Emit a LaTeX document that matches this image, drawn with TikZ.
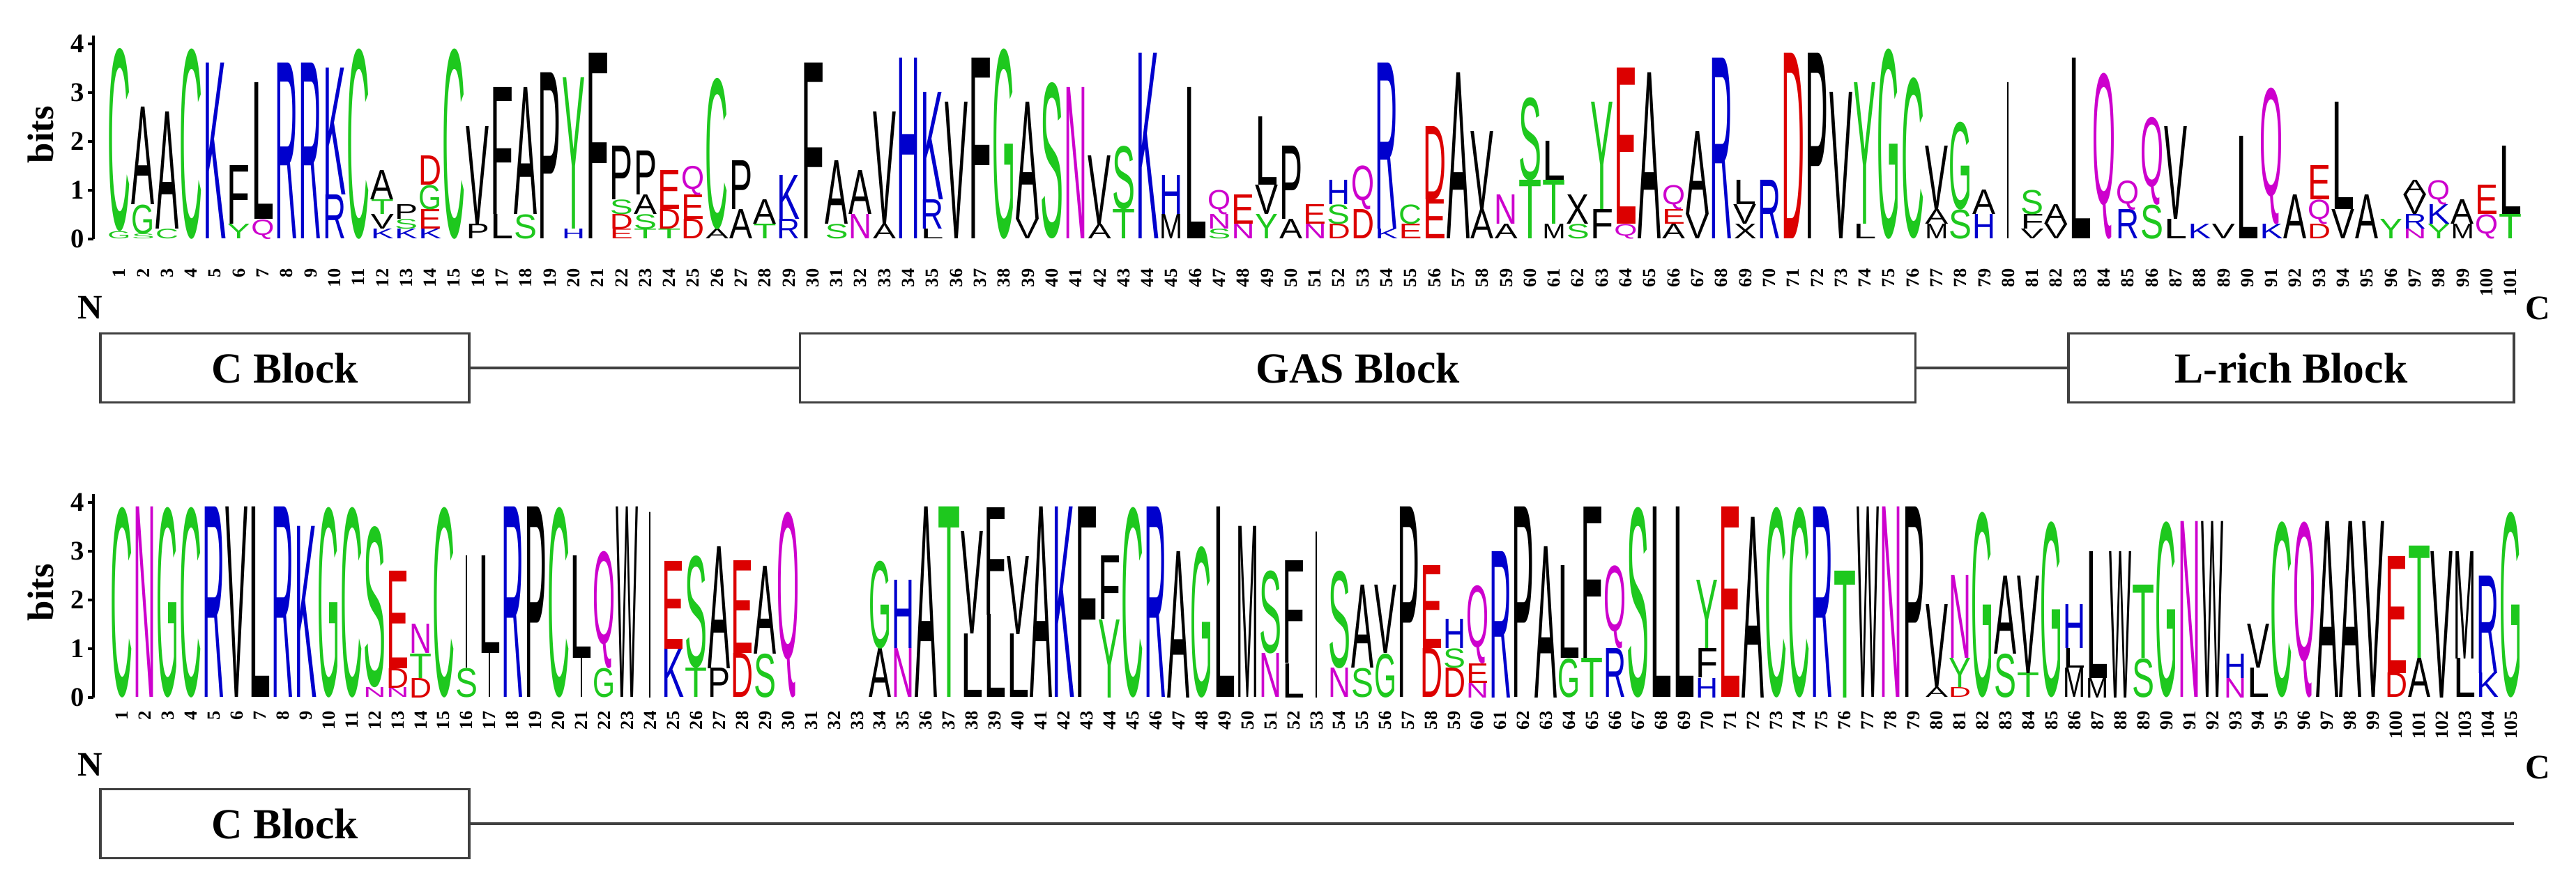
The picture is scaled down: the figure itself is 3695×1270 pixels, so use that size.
\documentclass[tikz,border=0pt]{standalone}
\usepackage{fontspec}
\usepackage{graphicx}
\setmainfont{Liberation Serif}
\newfontfamily\logofont{Liberation Sans}
\definecolor{lgreen}{RGB}{30,200,30}
\definecolor{lblue}{RGB}{0,0,205}
\definecolor{lred}{RGB}{220,0,0}
\definecolor{lmag}{RGB}{205,0,205}
\colorlet{cA}{black}\colorlet{cV}{black}\colorlet{cL}{black}\colorlet{cI}{black}
\colorlet{cP}{black}\colorlet{cW}{black}\colorlet{cF}{black}\colorlet{cM}{black}\colorlet{cX}{black}
\colorlet{cG}{lgreen}\colorlet{cS}{lgreen}\colorlet{cT}{lgreen}\colorlet{cY}{lgreen}\colorlet{cC}{lgreen}
\colorlet{cN}{lmag}\colorlet{cQ}{lmag}
\colorlet{cK}{lblue}\colorlet{cR}{lblue}\colorlet{cH}{lblue}
\colorlet{cD}{lred}\colorlet{cE}{lred}
\colorlet{cZ}{white}
\newcommand\lcol[4]{%
  \gdef\cumy{#2}%
  \foreach \lett/\hgt in #4 {%
    \pgfmathsetmacro\hh{\hgt*0.70}%
    \def\ww{#3}\if\lett I\def\ww{0.06cm}\fi
    \node[anchor=south,inner sep=0pt,outer sep=0pt,text=c\lett] at (#1,\cumy) {\resizebox*{\ww}{\hh cm}{\logofont\lett}};%
    \pgfmathsetmacro\tmpy{\cumy-\hgt*70}\xdef\cumy{\tmpy}%
  }}
\tikzset{
  blockbox/.style={draw=black!75,line width=1pt,minimum height=0.99cm,inner sep=0pt,font=\fontsize{17.5}{20}\selectfont\bfseries},
  conn/.style={draw=black!75,line width=1pt},
  numlab/.style={rotate=90,anchor=east,inner sep=0pt,font=\fontsize{7.5}{8}\selectfont\bfseries},
  ticklab/.style={anchor=east,inner sep=0pt,font=\fontsize{11}{12}\selectfont\bfseries},
  endlab/.style={inner sep=0pt,font=\fontsize{14}{16}\selectfont\bfseries},
  bitslab/.style={rotate=90,inner sep=0pt,font=\fontsize{15}{16}\selectfont\bfseries}
}
\begin{document}
\begin{tikzpicture}[x=0.01cm,y=-0.01cm]
\useasboundingbox (0,0) rectangle (3695,1270);
% ---------- top logo ----------
\foreach \s [count=\i] in {
{G/0.15,C/3.75},{S/0.1,G/0.6,A/2.0},{C/0.2,A/2.4},{C/3.9},{K/3.6},{Y/0.3,F/1.2},{Q/0.4,L/2.8},{R/3.6},{R/3.6},{R/0.9,K/2.6},
{C/3.9},{K/0.2,V/0.3,T/0.3,A/0.6},{K/0.2,S/0.2,P/0.3},{K/0.2,E/0.4,G/0.5,D/0.6},{C/3.9},{P/0.3,V/2.0},{L/0.5,F/2.6},{S/0.5,A/2.6},{P/3.4},{H/0.2,Y/3.1},
{F/3.8},{E/0.2,D/0.3,S/0.3,P/1.1},{T/0.2,S/0.3,A/0.4,P/0.9},{T/0.2,D/0.4,E/0.8},{D/0.4,E/0.5,Q/0.6},{A/0.2,C/3.1},{A/0.6,P/1.0},{T/0.3,A/0.5},{R/0.4,K/0.9},{F/3.6},
{S/0.3,A/1.3},{N/0.5,A/0.9},{A/0.3,V/2.3},{H/3.7},{L/0.2,R/0.6,K/2.2},{V/2.8},{F/3.7},{G/3.9},{V/0.4,A/2.4},{S/3.2},
{N/3.1},{A/0.3,V/1.4},{T/0.6,S/1.3},{K/3.8},{M/0.5,H/0.8},{L/3.1},{S/0.2,N/0.3,Q/0.5},{N/0.3,E/0.6},{Y/0.5,V/0.6,L/1.4},{A/0.4,P/1.5},
{N/0.3,E/0.4},{D/0.3,S/0.4,H/0.5},{D/0.6,Q/0.9},{K/0.2,R/3.4},{E/0.3,C/0.4},{E/0.8,D/1.5},{A/3.4},{A/0.6,V/1.6},{A/0.3,N/0.6},{T/1.2,S/1.7},
{M/0.3,T/0.9,L/0.8},{S/0.3,X/0.6},{F/0.6,Y/2.2},{Q/0.3,E/3.2},{A/3.4},{A/0.3,E/0.3,Q/0.5},{V/0.5,A/1.7},{R/3.7},{X/0.3,V/0.4,L/0.5},{R/1.2},
{D/3.8},{P/3.8},{V/3.0},{L/0.3,Y/2.9},{G/3.9},{C/3.3},{M/0.3,A/0.3,V/1.3},{S/0.6,G/1.8},{H/0.5,A/0.5},{I/3.2},
{V/0.2,F/0.3,S/0.5},{V/0.3,A/0.4},{L/3.7},{Q/3.4},{R/0.6,Q/0.6},{S/0.7,Q/1.8},{L/0.4,V/1.9},{K/0.3},{V/0.3},{L/2.1},
{K/0.3,Q/2.8},{A/0.9},{D/0.3,Q/0.5,E/0.7},{V/0.6,L/2.2},{A/0.9},{Y/0.4},{N/0.2,R/0.3,V/0.4,A/0.3},{Y/0.3,K/0.4,Q/0.5},{M/0.3,A/0.5},{Q/0.5,E/0.6},
{T/0.5,L/1.4}}
{\pgfmathsetmacro\cx{171+(\i-1)*34.3}\lcol{\cx}{343}{0.33cm}{\s}
 \node[numlab] (tn\i) at (\cx,385) {\i};}
% ---------- bottom logo ----------
\foreach \s [count=\i] in {
{C/3.9},{N/3.9},{G/3.9},{C/3.9},{R/3.9},{V/3.9},{L/3.9},{R/3.9},{K/3.5},{G/3.9},
{C/3.9},{N/0.2,S/3.3},{N/0.2,D/0.4,E/2.0},{D/0.4,T/0.5,N/0.6},{C/3.9},{S/0.6,I/2.3},{I/0.9,L/2.0},{R/3.9},{P/3.9},{C/3.9},
{I/0.8,L/2.1},{G/0.6,Q/2.4},{W/3.9},{I/3.8},{K/1.0,E/1.8},{T/0.6,S/2.3},{P/0.6,A/2.5},{D/0.9,E/1.9},{S/0.9,A/1.8},{Q/3.8},
{Z/0.01},{Z/0.01},{Z/0.01},{A/1.0,G/1.8},{N/1.0,H/1.4},{A/3.9},{T/3.9},{L/1.3,V/2.1},{L/1.7,F/2.2},{L/1.3,V/1.6},
{A/3.9},{K/3.9},{F/3.9},{Y/1.6,F/1.3},{C/3.9},{R/3.9},{A/3.0},{G/3.1},{L/3.9},{M/3.5},
{N/0.9,S/1.7},{L/0.7,F/2.1},{I/3.4},{N/0.6,S/2.0},{S/0.6,A/1.7},{G/0.9,V/1.4},{P/3.9},{D/1.0,E/1.7},{D/0.6,S/0.4,H/0.6},{N/0.3,E/0.4,Q/1.6},
{R/3.0},{P/3.9},{A/3.1},{G/0.8,L/1.9},{T/0.8,F/3.1},{R/1.0,Q/1.7},{S/3.9},{L/3.9},{L/3.9},{H/0.4,F/0.6,Y/1.4},
{E/3.9},{A/3.7},{C/3.9},{C/3.9},{R/3.9},{T/2.6},{W/3.9},{N/3.9},{P/3.9},{A/0.2,V/1.7},
{D/0.2,Y/0.6,N/1.7},{G/3.8},{S/0.9,A/1.6},{T/0.5,V/2.0},{G/3.6},{M/0.6,L/0.4,H/0.9},{M/0.4,L/2.6},{W/3.0},{S/0.8,T/1.5},{G/3.6},
{N/3.6},{W/3.6},{N/0.4,H/0.5},{L/0.6,V/0.9},{C/3.6},{Q/3.6},{A/3.6},{A/3.6},{V/3.6},{D/0.5,E/2.4},
{A/0.8,T/2.3},{V/3.0},{L/0.8,M/2.2},{K/0.5,R/2.0},{G/3.8}}
{\pgfmathsetmacro\cx{175+(\i-1)*32.95}\lcol{\cx}{1001}{0.32cm}{\s}
 \node[numlab] (bn\i) at (\cx,1020) {\i};}
% ---------- axes ----------
\foreach \base/\nm in {343/t,1001/b}{
  \coordinate (\nm ax0) at (134,\base);
  \coordinate (\nm ax1) at (134,\base-292);
  \draw[line width=1pt] (\nm ax0) -- (\nm ax1);
  \foreach \k in {0,...,4}{
    \draw[line width=1pt] (126,\base-70*\k) -- (134,\base-70*\k);
    \node[ticklab] (\nm tick\k) at (122,\base-70*\k) {\k};
  }
}
\node[bitslab] (tbits) at (58,193) {bits};
\node[bitslab] (bbits) at (58,850) {bits};
% ---------- N / C ----------
\node[endlab] (tN) at (129,441) {N};
\node[endlab] (tC) at (3640,442) {C};
\node[endlab] (bN) at (129,1097) {N};
\node[endlab] (bC) at (3640,1101) {C};
% ---------- blocks ----------
\node[blockbox,minimum width=5.29cm] (cb1) at (408.5,528) {C Block};
\node[blockbox,minimum width=15.99cm] (gas) at (1947.5,528) {GAS Block};
\node[blockbox,minimum width=6.39cm] (lrich) at (3286.5,528) {L-rich Block};
\draw[conn] (cb1.east) -- (gas.west);
\draw[conn] (gas.east) -- (lrich.west);
\node[blockbox,minimum width=5.29cm] (cb2) at (408.5,1182) {C Block};
\coordinate (bend) at (3606,1182);
\draw[conn] (cb2.east) -- (bend);
\end{tikzpicture}
\end{document}
